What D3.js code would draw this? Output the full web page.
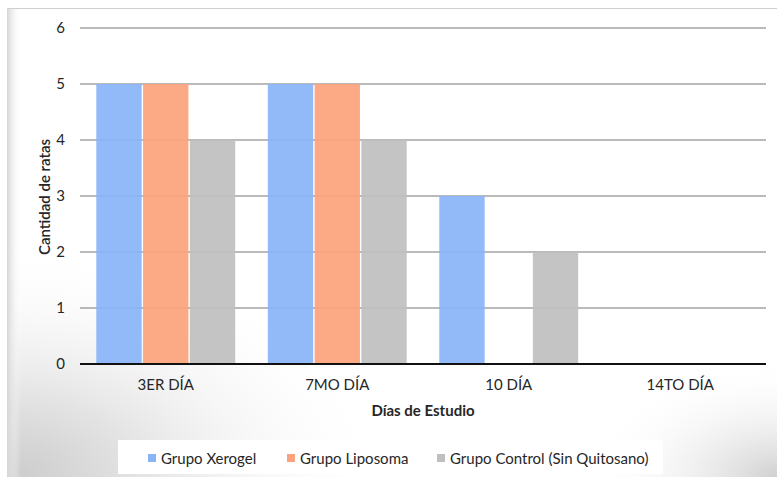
<!DOCTYPE html>
<html>
<head>
<meta charset="utf-8">
<script src="https://cdn.jsdelivr.net/npm/d3@7"></script>
<style>
  html, body { margin: 0; padding: 0; background: #ffffff; }
  svg { display: block; }
  text { font-family: Lato, "Open Sans", sans-serif; fill: #262626; }
</style>
</head>
<body>
<svg id="chart" width="777" height="479"></svg>
<script>
// Chart data
const categories = ["3ER DÍA", "7MO DÍA", "10 DÍA", "14TO DÍA"];
const seriesNames = ["Grupo Xerogel", "Grupo Liposoma", "Grupo Control (Sin Quitosano)"];
const xerogel = [5, 5, 3, 0];
const liposoma = [5, 5, 0, 0];
const control = [4, 4, 2, 0];
const yTicks = [0, 1, 2, 3, 4, 5, 6];
const seriesColors = ["#8ab4f8", "#fca27c", "#bfbfbf"];

const seriesValues = [xerogel, liposoma, control];
const rows = categories.map((c, i) => ({
  cat: c,
  values: seriesNames.map((s, j) => ({ key: s, value: seriesValues[j][i], idx: j }))
}));

const W = 777, H = 479;
const svg = d3.select("#chart");

// Card background with soft shading toward the lower corners
const defs = svg.append("defs");
const lg = defs.append("linearGradient").attr("id", "frameL").attr("x1", 0).attr("x2", 1).attr("y1", 0).attr("y2", 0);
lg.append("stop").attr("offset", 0).attr("stop-color", "#d6d6d6");
lg.append("stop").attr("offset", 1).attr("stop-color", "#ffffff").attr("stop-opacity", 0);
const rg = defs.append("radialGradient").attr("id", "cornerBL").attr("cx", 0).attr("cy", 1).attr("r", 0.5);
rg.append("stop").attr("offset", 0).attr("stop-color", "#cbcbcb");
rg.append("stop").attr("offset", 0.35).attr("stop-color", "#e4e4e4");
rg.append("stop").attr("offset", 1).attr("stop-color", "#ffffff").attr("stop-opacity", 0);
const rg2 = defs.append("radialGradient").attr("id", "cornerBR").attr("cx", 1).attr("cy", 1).attr("r", 0.25);
rg2.append("stop").attr("offset", 0).attr("stop-color", "#d0d0d0");
rg2.append("stop").attr("offset", 1).attr("stop-color", "#ffffff").attr("stop-opacity", 0);

svg.append("rect").attr("width", W).attr("height", H).attr("fill", "#ffffff");
const card = { x: 7, y: 8, w: W - 7, h: H - 10 };
svg.append("rect").attr("x", card.x).attr("y", card.y).attr("width", card.w).attr("height", card.h).attr("fill", "url(#cornerBL)");
svg.append("rect").attr("x", card.x).attr("y", card.y).attr("width", card.w).attr("height", card.h).attr("fill", "url(#cornerBR)");
svg.append("rect").attr("x", card.x).attr("y", card.y).attr("width", 14).attr("height", card.h).attr("fill", "url(#frameL)");
svg.append("line").attr("x1", card.x).attr("x2", W).attr("y1", card.y + 0.5).attr("y2", card.y + 0.5)
  .attr("stroke", "#d0d0d0").attr("stroke-width", 1);

// Scales
const plot = { left: 80, right: 766, top: 28, bottom: 364 };
const x0 = d3.scaleBand().domain(categories).range([plot.left, plot.right]).paddingInner(0.19).paddingOuter(0.095);
const x1 = d3.scaleBand().domain(seriesNames).range([0, x0.bandwidth()]).paddingInner(0.03);
const y = d3.scaleLinear().domain([0, 6]).range([plot.bottom, plot.top]);

// Gridlines
svg.append("g")
  .selectAll("line")
  .data(yTicks.filter(t => t > 0))
  .join("line")
  .attr("x1", plot.left).attr("x2", plot.right)
  .attr("y1", d => y(d)).attr("y2", d => y(d))
  .attr("stroke", "#a3a3a3").attr("stroke-width", 1.5);

// Bars
svg.append("g")
  .selectAll("g")
  .data(rows)
  .join("g")
  .attr("transform", d => `translate(${x0(d.cat)},0)`)
  .selectAll("rect")
  .data(d => d.values)
  .join("rect")
  .attr("x", d => x1(d.key))
  .attr("y", d => y(d.value))
  .attr("width", x1.bandwidth())
  .attr("height", d => y(0) - y(d.value))
  .attr("fill", d => seriesColors[d.idx])
  .attr("fill-opacity", 0.93);

// Baseline
svg.append("line")
  .attr("x1", plot.left).attr("x2", plot.right)
  .attr("y1", y(0)).attr("y2", y(0))
  .attr("stroke", "#111").attr("stroke-width", 2.2);

// Y axis labels
const yAxis = d3.axisLeft(y).tickValues(yTicks).tickSize(0).tickPadding(0).tickFormat(d3.format("d"));
const yg = svg.append("g").attr("transform", `translate(65,0)`).call(yAxis);
yg.select(".domain").remove();
yg.selectAll("text").attr("font-size", 15).attr("font-family", "Lato, sans-serif").attr("fill", "#262626");

// X axis labels
const xAxis = d3.axisBottom(x0).tickSize(0).tickPadding(0);
const xg = svg.append("g").attr("transform", `translate(0,${y(0) + 15})`).call(xAxis);
xg.select(".domain").remove();
xg.selectAll("text").attr("font-size", 15).attr("font-family", "Lato, sans-serif").attr("fill", "#262626");

// Axis titles
svg.append("text")
  .attr("x", 423).attr("y", 416)
  .attr("text-anchor", "middle")
  .attr("font-size", 15).attr("font-weight", "bold")
  .text("Días de Estudio");

svg.append("text")
  .attr("transform", "translate(50,197) rotate(-90)")
  .attr("text-anchor", "middle")
  .attr("font-size", 15).attr("font-weight", "600")
  .text("Cantidad de ratas");

// Legend
svg.append("rect").attr("x", 118).attr("y", 440).attr("width", 545).attr("height", 34).attr("fill", "#ffffff");
const legendX = [148, 287, 437];
const lgItems = svg.append("g").selectAll("g")
  .data(seriesNames)
  .join("g")
  .attr("transform", (d, i) => `translate(${legendX[i]},458)`);
lgItems.append("rect")
  .attr("x", 0).attr("y", -4).attr("width", 8).attr("height", 8)
  .attr("fill", (d, i) => seriesColors[i]);
lgItems.append("text")
  .attr("x", 13).attr("y", 5.5)
  .attr("font-size", 15)
  .text(d => d);
</script>
</body>
</html>
